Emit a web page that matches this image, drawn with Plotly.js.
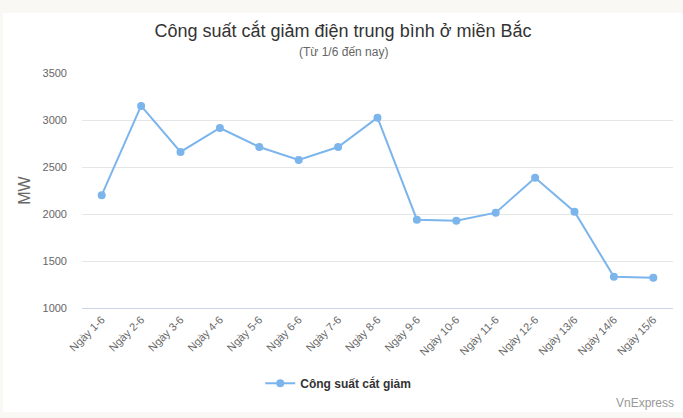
<!DOCTYPE html>
<html>
<head>
<meta charset="utf-8">
<script src="https://cdn.plot.ly/plotly-3.0.1.min.js"></script>
<style>
  html, body { margin: 0; padding: 0; background: #f9f8f5; }
  #chart { position: absolute; left: 3px; top: 13px; width: 680px; height: 399px; background: #fff; }
</style>
</head>
<body>
<div id="chart"></div>
<script>
// data
const days = ['Ngày 1-6', 'Ngày 2-6', 'Ngày 3-6', 'Ngày 4-6', 'Ngày 5-6', 'Ngày 6-6', 'Ngày 7-6', 'Ngày 8-6',
              'Ngày 9-6', 'Ngày 10-6', 'Ngày 11-6', 'Ngày 12-6', 'Ngày 13/6', 'Ngày 14/6', 'Ngày 15/6'];
const power = [2200, 3150, 2660, 2915, 2713, 2575, 2713, 3025, 1939, 1929, 2014, 2386, 2024, 1333, 1322];
const yTicks = [1000, 1500, 2000, 2500, 3000, 3500];

const font = 'Arial, "Liberation Sans", sans-serif';
// card centre, in plot-area fractions (plot spans 79..670 of 680 px)
const midX = (340 - 79) / 591;

var trace = {
  x: days,
  y: power,
  name: 'Công suất cắt giảm',
  type: 'scatter',
  mode: 'lines+markers',
  line: {color: '#7cb5ec', width: 2},
  marker: {color: '#7cb5ec', size: 8}
};

var layout = {
  width: 680,
  height: 399,
  paper_bgcolor: '#fff',
  plot_bgcolor: '#fff',
  margin: {l: 79, r: 10, t: 60, b: 104},
  font: {family: font, color: '#666'},
  title: {
    text: 'Công suất cắt giảm điện trung bình ở miền Bắc',
    font: {size: 18, color: '#333', family: font},
    x: 0.5, xref: 'container', xanchor: 'center',
    y: 1 - 18 / 399, yref: 'container', yanchor: 'middle'
  },
  xaxis: {
    type: 'category',
    automargin: false,
    range: [-0.5, days.length - 0.5],
    tickangle: -45,
    tickfont: {size: 11, color: '#666'},
    showgrid: false,
    showline: true,
    linecolor: '#ccd6eb',
    linewidth: 1,
    ticks: '',
    fixedrange: true
  },
  yaxis: {
    automargin: false,
    range: [1000, 3500],
    tickvals: yTicks,
    ticktext: yTicks.map(String),
    tickfont: {size: 11, color: '#666'},
    gridcolor: '#e6e6e6',
    zeroline: false,
    ticklabelstandoff: 14,
    title: {text: 'MW', font: {size: 16, color: '#666'}, standoff: 7}
  },
  showlegend: true,
  legend: {
    orientation: 'h',
    x: midX - 0.008, xanchor: 'center',
    y: -0.32, yanchor: 'middle',
    itemwidth: 30,
    font: {size: 12, color: '#333', family: font, weight: 'bold'}
  },
  annotations: [
    {
      text: '(Từ 1/6 đến nay)',
      xref: 'paper', yref: 'paper',
      x: midX, y: (295 - 39) / 235, xanchor: 'center', yanchor: 'middle',
      showarrow: false,
      font: {size: 12, color: '#666'}
    },
    {
      text: 'VnExpress',
      xref: 'paper', yref: 'paper',
      x: 1.005, y: (295 - 390) / 235, xanchor: 'right', yanchor: 'middle',
      showarrow: false,
      font: {size: 12, color: '#999'}
    }
  ]
};

Plotly.newPlot('chart', [trace], layout, {displayModeBar: false, staticPlot: true});
</script>
</body>
</html>
